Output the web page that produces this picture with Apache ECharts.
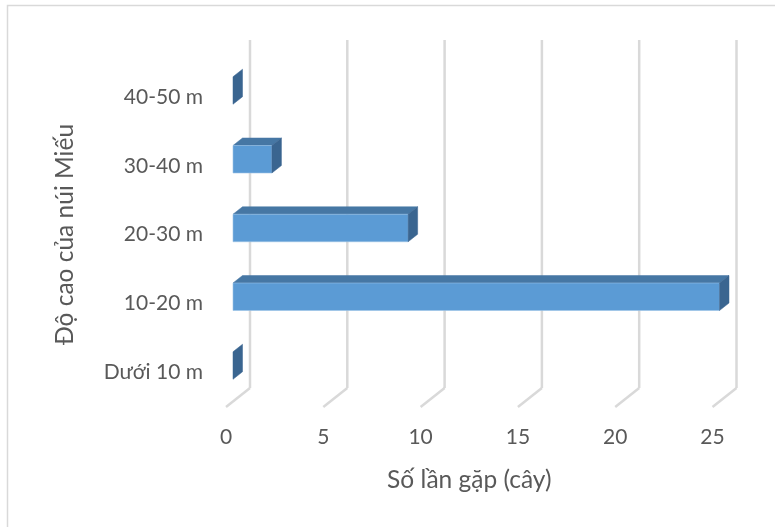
<!DOCTYPE html>
<html>
<head>
<meta charset="utf-8">
<script src="https://cdn.jsdelivr.net/npm/echarts@6/dist/echarts.min.js"></script>
<style>
  html, body { margin: 0; padding: 0; background: #ffffff; }
  #chart { width: 775px; height: 527px; }
</style>
</head>
<body>
<div id="chart"></div>
<script>
// ---- Data ----
const categories = ['Dưới 10 m', '10-20 m', '20-30 m', '30-40 m', '40-50 m'];
const counts = [0, 25, 9, 2, 0];
const xTicks = [0, 5, 10, 15, 20, 25];
const xAxisTitle = 'Số lần gặp (cây)';
const yAxisTitle = 'Độ cao của núi Miếu';

// ---- Style constants ----
const FONT = 'Lato';
const LABEL_COLOR = '#595959';
const GRID_COLOR = '#d9d9d9';
const DEPTH_X = 24, DEPTH_Y = 18.5;       // back wall offset from the front plane
const BAR_OX = 7, BAR_OY = -6.5;          // bar front-face offset from front plane
const BAR_DX = 9.5, BAR_DY = 7.5;         // bar depth

const chart = echarts.init(document.getElementById('chart'), null, { renderer: 'canvas' });

function renderGrid(params, api) {
  const v = api.value(0);
  const p = api.coord([v, 0]);
  const cs = params.coordSys;
  const bx = p[0] + DEPTH_X;
  const top = cs.y - DEPTH_Y - 4;
  const bottomBack = cs.y + cs.height - DEPTH_Y;
  const bottomFront = cs.y + cs.height + 0.5;
  return {
    type: 'group',
    children: [
      { type: 'line', shape: { x1: bx, y1: top, x2: bx, y2: bottomBack },
        style: { stroke: GRID_COLOR, lineWidth: 2.5 } },
      { type: 'line', shape: { x1: bx, y1: bottomBack, x2: p[0], y2: bottomFront },
        style: { stroke: GRID_COLOR, lineWidth: 2.5 } }
    ]
  };
}

function renderBar(params, api) {
  const v = api.value(0);
  const c = api.value(1);
  const p0 = api.coord([0, c]);
  const p1 = api.coord([v, c]);
  const band = api.size([0, 1])[1];
  const h = band * 0.4;
  const x0 = p0[0] + BAR_OX;
  const x1 = p1[0] + BAR_OX;
  const yc = p0[1] + BAR_OY;
  const yT = yc - h / 2, yB = yc + h / 2;
  const children = [];
  if (x1 > x0) {
    children.push({ type: 'polygon', shape: { points: [[x0, yT], [x1, yT], [x1 + BAR_DX, yT - BAR_DY], [x0 + BAR_DX, yT - BAR_DY]] },
      style: { fill: '#4677a4', stroke: '#4677a4', lineWidth: 0.5 } });
    children.push({ type: 'rect', shape: { x: x0, y: yT, width: x1 - x0, height: h },
      style: { fill: '#5b9bd5', stroke: '#9cc3e6', lineWidth: 0.6 } });
  }
  children.push({ type: 'polygon', shape: { points: [[x1, yT], [x1 + BAR_DX, yT - BAR_DY], [x1 + BAR_DX, yB - BAR_DY], [x1, yB]] },
    style: { fill: '#3a6590', stroke: '#3a6590', lineWidth: 0.5 } });
  return { type: 'group', children };
}

const option = {
  backgroundColor: '#ffffff',
  animation: false,
  textStyle: { fontFamily: FONT },
  graphic: [
    { type: 'rect', z: 0, silent: true,
      shape: { x: 7.5, y: 5.5, width: 820, height: 600 },
      style: { fill: 'none', stroke: '#d9d9d9', lineWidth: 1.5 } }
  ],
  grid: { left: 226, right: 62.5, top: 62.6, bottom: 120.6 },
  xAxis: {
    type: 'value', min: 0, max: 25, interval: 5,
    axisLine: { show: false }, axisTick: { show: false }, splitLine: { show: false },
    axisLabel: { fontSize: 21, color: LABEL_COLOR, fontFamily: FONT, margin: 20 },
    name: xAxisTitle, nameLocation: 'middle', nameGap: 61,
    nameTextStyle: { fontSize: 24.5, color: LABEL_COLOR, fontFamily: FONT }
  },
  yAxis: {
    type: 'category', data: categories,
    axisLine: { show: false }, axisTick: { show: false }, splitLine: { show: false },
    axisLabel: { fontSize: 21, color: LABEL_COLOR, fontFamily: FONT, margin: 23 },
    name: yAxisTitle, nameLocation: 'middle', nameGap: 148,
    nameTextStyle: { fontSize: 24.5, color: LABEL_COLOR, fontFamily: FONT }
  },
  series: [
    { type: 'custom', z: 1, silent: true, renderItem: renderGrid,
      data: xTicks.map(t => [t]), clip: false, encode: { x: 0 } },
    { type: 'custom', z: 2, silent: true, renderItem: renderBar,
      data: counts.map((v, i) => [v, i]), clip: false, encode: { x: 0, y: 1 } }
  ]
};
chart.setOption(option);
</script>
</body>
</html>
